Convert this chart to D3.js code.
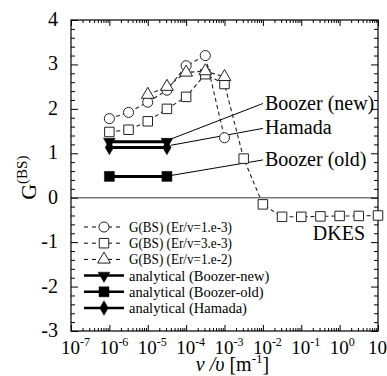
<!DOCTYPE html>
<html>
<head>
<meta charset="utf-8">
<script src="https://cdn.jsdelivr.net/npm/d3@7"></script>
<style>
  body { margin: 0; background: #fff; }
  text, tspan { font-family: 'Liberation Serif', serif; }
</style>
</head>
<body>
<script>
// G(BS) from DKES, three Er/v values
const circX = [1e-6, 3.16e-6, 1e-5, 3.16e-5, 1e-4, 3.16e-4, 1e-3];
const circY = [1.78, 1.92, 2.15, 2.42, 2.97, 3.2, 1.35];

const sqX = [1e-6, 3.16e-6, 1e-5, 3.16e-5, 1e-4, 3.16e-4, 1e-3, 3.16e-3, 1e-2, 3.16e-2, 1e-1, 3.16e-1, 1, 3.16, 10];
const sqY = [1.48, 1.53, 1.72, 2.0, 2.27, 2.78, 2.56, 0.88, -0.15, -0.43, -0.43, -0.42, -0.41, -0.41, -0.4];

const triX = [1e-5, 3.16e-5, 1e-4, 3.16e-4, 1e-3];
const triY = [2.32, 2.5, 2.82, 2.85, 2.72];

// analytical values (flat)
const anaX = [1e-6, 3.16e-5];
const boozerNew = [1.26, 1.26];
const boozerOld = [0.48, 0.48];
const hamada = [1.13, 1.13];

// annotation callouts: [label, start x, start y, end x, end y]
const callouts = [
  ["Boozer (new)", 4e-5, 1.32, 1e-2, 2.12],
  ["Hamada", 4e-5, 1.18, 1e-2, 1.56],
  ["Boozer (old)", 4e-5, 0.5, 1e-2, 0.85]
];

const xTicks = [-7, -6, -5, -4, -3, -2, -1, 0, 1];
const yTicks = [-3, -2, -1, 0, 1, 2, 3, 4];

const legendItems = [
  { label: "G(BS) (Er/v=1.e-3)", sym: "circle", dash: true },
  { label: "G(BS) (Er/v=3.e-3)", sym: "square", dash: true },
  { label: "G(BS) (Er/v=1.e-2)", sym: "triangle", dash: true },
  { label: "analytical (Boozer-new)", sym: "triDown", dash: false },
  { label: "analytical (Boozer-old)", sym: "squareF", dash: false },
  { label: "analytical (Hamada)", sym: "diamond", dash: false }
];

const FONT = "'Liberation Serif'";
const W = 387, H = 376;
const margin = { top: 20, right: 9, bottom: 45, left: 71 };
const width = W - margin.left - margin.right;
const height = H - margin.top - margin.bottom;

const svg = d3.select("body").append("svg").attr("width", W).attr("height", H);
const g = svg.append("g").attr("transform", `translate(${margin.left},${margin.top})`);

const x = d3.scaleLog().domain([1e-7, 10]).range([0, width]);
const y = d3.scaleLinear().domain([-3, 4]).range([height, 0]);

// zero line
g.append("line")
  .attr("x1", 0).attr("x2", width)
  .attr("y1", y(0)).attr("y2", y(0))
  .attr("stroke", "#7a7a7a").attr("stroke-width", 1.6);

// log ticks on bottom and top (inward)
const minorX = [];
for (let e = -7; e < 1; e++) for (let k = 2; k <= 9; k++) minorX.push(k * Math.pow(10, e));
const majorX = xTicks.map((e) => Math.pow(10, e));

g.append("g").attr("transform", `translate(0,${height})`)
  .call(d3.axisBottom(x).tickValues(majorX).tickSize(-6).tickFormat(""))
  .call((a) => a.select(".domain").remove());
g.append("g").attr("transform", `translate(0,${height})`)
  .call(d3.axisBottom(x).tickValues(minorX).tickSize(-3).tickFormat(""))
  .call((a) => a.select(".domain").remove());
g.append("g")
  .call(d3.axisTop(x).tickValues(majorX).tickSize(-6).tickFormat(""))
  .call((a) => a.select(".domain").remove());
g.append("g")
  .call(d3.axisTop(x).tickValues(minorX).tickSize(-3).tickFormat(""))
  .call((a) => a.select(".domain").remove());

// y ticks left and right (inward)
const minorY = d3.range(-3, 4.001, 0.2).filter((v) => Math.abs(v - Math.round(v)) > 1e-6);
g.append("g")
  .call(d3.axisLeft(y).tickValues(yTicks).tickSize(-7).tickFormat(""))
  .call((a) => a.select(".domain").remove());
g.append("g")
  .call(d3.axisLeft(y).tickValues(minorY).tickSize(-4).tickFormat(""))
  .call((a) => a.select(".domain").remove());
g.append("g").attr("transform", `translate(${width},0)`)
  .call(d3.axisRight(y).tickValues(yTicks).tickSize(-7).tickFormat(""))
  .call((a) => a.select(".domain").remove());
g.append("g").attr("transform", `translate(${width},0)`)
  .call(d3.axisRight(y).tickValues(minorY).tickSize(-4).tickFormat(""))
  .call((a) => a.select(".domain").remove());
g.selectAll(".tick line").attr("stroke", "#000").attr("stroke-width", 1);
g.selectAll(".tick text").remove();

// frame
g.append("rect").attr("width", width).attr("height", height)
  .attr("fill", "none").attr("stroke", "#000").attr("stroke-width", 1.2);

// y tick labels
g.selectAll(".ylab").data(yTicks).enter().append("text")
  .attr("x", -13).attr("y", (d) => y(d) + 6)
  .attr("text-anchor", "end").attr("font-size", 20)
  .text((d) => d);

// x tick labels 10^e
const xl = g.selectAll(".xlab").data(xTicks).enter().append("text")
  .attr("x", (d) => x(Math.pow(10, d)) - 10).attr("y", height + 23)
  .attr("font-size", 19);
xl.append("tspan").text("10");
xl.append("tspan").attr("dy", -8).attr("font-size", 12).text((d) => d);

// axis titles
const xt = svg.append("text").attr("x", margin.left + width / 2 + 8).attr("y", H - 5)
  .attr("text-anchor", "middle").attr("font-size", 20);
xt.append("tspan").attr("font-style", "italic").text("ν /υ");
xt.append("tspan").text("  [m");
xt.append("tspan").attr("dy", -8).attr("font-size", 13).text("-1");
xt.append("tspan").attr("dy", 8).text("]");

const yt = svg.append("text").attr("transform", `translate(36,${margin.top + y(0.45)}) rotate(-90)`)
  .attr("text-anchor", "middle").attr("font-size", 22);
yt.append("tspan").text("G");
yt.append("tspan").attr("dy", -9).attr("font-size", 15).text("(BS)");

// symbols
const symSize = { circle: 80, square: 90, triangle: 70, triDown: 60, squareF: 100, diamond: 60 };
function symPath(type) {
  if (type === "circle") return d3.symbol().type(d3.symbolCircle).size(symSize.circle)();
  if (type === "square" || type === "squareF") return d3.symbol().type(d3.symbolSquare).size(symSize[type])();
  if (type === "triangle") return d3.symbol().type(d3.symbolTriangle).size(symSize.triangle)();
  if (type === "triDown") return d3.symbol().type(d3.symbolTriangle).size(symSize.triDown)();
  return d3.symbol().type(d3.symbolDiamond).size(symSize.diamond)();
}
function drawSym(sel, type) {
  const open = type === "circle" || type === "square" || type === "triangle";
  sel.attr("d", symPath(type))
    .attr("fill", open ? "#fff" : "#000")
    .attr("stroke", open ? "#222" : "#000")
    .attr("stroke-width", open ? 1 : 0.5);
}

const line = d3.line().x((d) => x(d[0])).y((d) => y(d[1]));

// analytical lines
[[boozerNew, "triDown"], [hamada, "diamond"], [boozerOld, "squareF"]].forEach(([vals, sym]) => {
  const pts = anaX.map((v, i) => [v, vals[i]]);
  g.append("path").datum(pts).attr("d", line)
    .attr("fill", "none").attr("stroke", "#000").attr("stroke-width", 3);
  g.selectAll(null).data(pts).enter().append("path")
    .attr("transform", (d) => `translate(${x(d[0])},${y(d[1])})` + (sym === "triDown" ? " rotate(180)" : ""))
    .call(drawSym, sym);
});

// callout lines and labels
callouts.forEach(([lab, x0, y0, x1, y1]) => {
  g.append("line")
    .attr("x1", x(x0)).attr("y1", y(y0)).attr("x2", x(x1)).attr("y2", y(y1))
    .attr("stroke", "#000").attr("stroke-width", 1);
  g.append("text").attr("x", x(x1) + 2).attr("y", y(y1) + 6)
    .attr("font-size", 20).text(lab);
});
g.append("text").attr("x", x(0.2)).attr("y", y(-0.95))
  .attr("font-size", 20).text("DKES");

// DKES series
const series = [
  [circX, circY, "circle"],
  [sqX, sqY, "square"],
  [triX, triY, "triangle"]
];
series.forEach(([xs, ys, sym]) => {
  const pts = xs.map((v, i) => [v, ys[i]]);
  g.append("path").datum(pts).attr("d", line)
    .attr("fill", "none").attr("stroke", "#222").attr("stroke-width", 1.1)
    .attr("stroke-dasharray", "4,3");
});
series.forEach(([xs, ys, sym]) => {
  const pts = xs.map((v, i) => [v, ys[i]]);
  g.selectAll(null).data(pts).enter().append("path")
    .attr("transform", (d) => `translate(${x(d[0])},${y(d[1])})`)
    .call(drawSym, sym);
});

// legend
const lg = svg.append("g").attr("transform", "translate(84,227)");
legendItems.forEach((it, i) => {
  const row = lg.append("g").attr("transform", `translate(0,${i * 16.2})`);
  row.append("line").attr("x1", 0).attr("x2", 40).attr("y1", 0).attr("y2", 0)
    .attr("stroke", "#000")
    .attr("stroke-width", it.dash ? 1 : 2.5)
    .attr("stroke-dasharray", it.dash ? "4,4" : null);
  row.append("path")
    .attr("transform", `translate(20,0)` + (it.sym === "triDown" ? " rotate(180)" : ""))
    .call(drawSym, it.sym);
  const t = row.append("text").attr("x", 45).attr("y", 5).attr("font-size", 14.5).text(it.label);
  // the G(BS) rows are set narrower in the original
  if (it.dash) t.attr("textLength", 103).attr("lengthAdjust", "spacingAndGlyphs");
});

// force serif face on every label and make sure layout is computed
svg.selectAll("text").style("font-family", FONT).each(function () {
  this.getComputedTextLength();
});
</script>
</body>
</html>
